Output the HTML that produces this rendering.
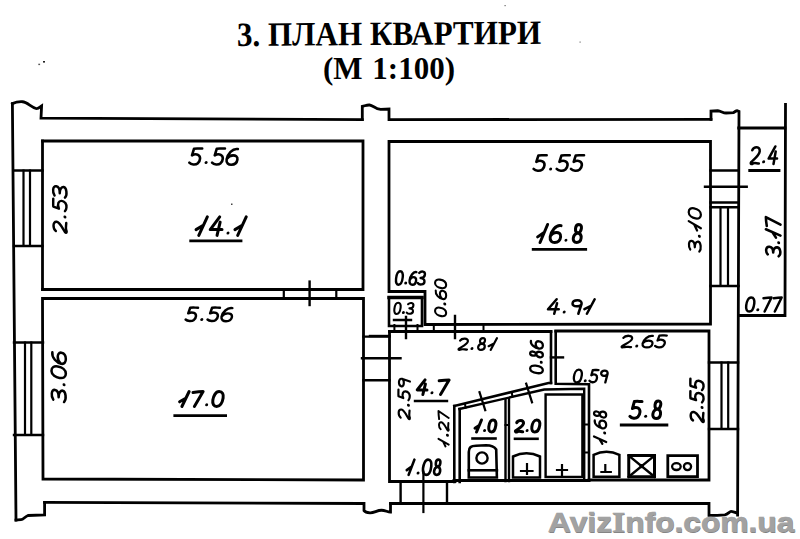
<!DOCTYPE html>
<html><head><meta charset="utf-8"><style>
html,body{margin:0;padding:0;background:#fff;width:800px;height:539px;overflow:hidden}
svg{position:absolute;left:0;top:0}
.t{position:absolute;font-family:"Liberation Serif",serif;font-weight:bold;color:#000;white-space:nowrap;line-height:1}
.wm{position:absolute;font-family:"Liberation Sans",sans-serif;font-weight:bold;white-space:nowrap;line-height:1;color:#a2a2a2;text-shadow:0.5px 0.8px 0.6px #7a7a7a;-webkit-text-stroke:0.7px #a2a2a2}
</style></head><body>
<div class="t" id="t1" style="left:237px;top:17.5px;font-size:34px;transform:rotate(-0.4deg) scaleX(0.915);transform-origin:0 100%">3. ПЛАН КВАРТИРИ</div>
<div class="t" id="t2" style="left:323px;top:52.5px;font-size:31px;word-spacing:2px;transform:scaleX(1.0);transform-origin:0 0">(М 1:100)</div>
<svg width="800" height="539" viewBox="0 0 800 539">
<g fill="none" stroke="#000" stroke-linecap="square" stroke-linejoin="miter">
<path d="M12.4,103.6 L16,520" stroke-width="2.8"/><path d="M12.4,103.6 C16,102 19,101.5 22.5,101.75 C27,102 31,107 36,108.5 C38,109 40,107 41.6,105.9 L41,118.2 L362.3,119.6" stroke-width="2.8"/><path d="M362.3,119.6 L362.3,106.4 C365,105.8 367,104.8 369.5,105 C372,105.3 375,107.8 377.3,108.6 L380.5,109.3 L389,109 L389,119.6 L711,119.4" stroke-width="2.8"/><path d="M711,119.4 L711,111 L717.75,110.75 C721,111 723,113 726,113 L733.5,112.7 C735,111.5 736,110.75 737,110.75 L739,111.5 L737.6,515" stroke-width="2.8"/><path d="M390.5,503.5 L709,503.5 L709,515.4 C714,515.5 720,515.2 724.75,514.9 C728,514.5 729.5,511.4 731,511.4 C733,511.4 735.5,513 737.6,513" stroke-width="2.8"/><path d="M44.6,502.4 L364,503.5 L364,510.6 C365,512 367,512.6 370,512.8 C374,513 377,510.3 381.5,510.25 C385,510.2 388,512.3 390.5,512.1 L390.5,503.5" stroke-width="2.8"/><path d="M44.6,502.4 L44.6,514.8 L28,515.5 C25,516.5 23.5,519.5 21,519.7 L16,520" stroke-width="2.8"/><path d="M42.5,141 L363,141 L363,289.5 L42.5,289.5" stroke-width="2.8"/><path d="M42.5,141 L42.5,289.5" stroke-width="2.8"/><path d="M42.5,298.5 L363.5,298.5 L363.5,480 L43,479 L42.5,298.5" stroke-width="2.8"/><path d="M14,170.5 L42.5,170.5 M14,246 L42.5,246" stroke-width="2.4"/><path d="M23.5,170.5 L23.5,246 M30,170.5 L30,246" stroke-width="2.2"/><path d="M14,342.5 L43,342.5 M14,435 L43,435" stroke-width="2.4"/><path d="M25,342.5 L25,435 M31.3,342.5 L31.3,435" stroke-width="2.2"/><path d="M283.8,289.5 L283.8,298.5 M336.3,289.5 L336.3,298.5" stroke-width="2.2"/><path d="M309.6,281.6 L309.6,305" stroke-width="2.4"/><path d="M389,141.5 L710.5,141.5 L710.5,324 L425,324.5 L425,291.5 L389,291.5 L389,141.5" stroke-width="2.8"/><path d="M710.5,170.5 L738.5,170.5 M705,186.8 L746.7,186.8 M710.5,202.5 L738.5,202.5 M710.5,207.3 L738.5,207.3 M710.5,286 L738.5,286" stroke-width="2.4"/><path d="M720.5,207.3 L720.5,286 M728,207.3 L728,286" stroke-width="2.2"/><path d="M738.7,128 L785.5,128 M785.5,104.5 L785,315.5 L738.7,315.5" stroke-width="2.8"/><path d="M389,297.5 L422,297.5 L422,326 L389,326 Z" stroke-width="2.6"/><path d="M389,297.5 L422,297.5" stroke-width="3.4"/><path d="M389.5,331.5 L551,331.5" stroke-width="2.8"/><path d="M394.4,325 L394.4,331.5 M417.5,325 L417.5,331.5 M433.8,325 L433.8,331.5 M483.5,325 L483.5,331.5" stroke-width="2.0"/><path d="M406,317 L406,338 M394,320 L411,320 M455,316 L455,338" stroke-width="2.4"/><path d="M389.5,331.5 L389.5,481.5 L455,481.5" stroke-width="2.8"/><path d="M363.5,336.6 L389.5,336.6 M362,358.3 L400.5,358.3 M363.5,380.2 L389.5,380.2" stroke-width="2.4"/><path d="M370,336 L389.5,336" stroke-width="2.4"/><path d="M400.6,481.5 L400.6,503.5 M447,481.5 L447,503.5" stroke-width="2.4"/><path d="M423.4,471.6 L423.4,512" stroke-width="2.2"/><path d="M551,331.5 L551,383 M555.7,331.5 L555.7,383.8 L589,384.2 L589,480" stroke-width="2.6"/><path d="M551,357.4 L563,357.4" stroke-width="2.4"/><path d="M555.7,331 L709,331 L709,480 L589,480" stroke-width="2.8"/><path d="M709,362.5 L738,362.5 M709,429 L738,429" stroke-width="2.4"/><path d="M721.5,362.5 L721.5,429 M728.2,362.5 L728.2,429" stroke-width="2.2"/><path d="M454.3,406 L548.5,383 L551,383" stroke-width="2.6"/><path d="M459.4,409 L544.2,389.5 L584.2,388.8 L584.2,480" stroke-width="2.4"/><path d="M454.3,406 L454.3,482 M459.7,409 L459.7,482" stroke-width="2.6"/><path d="M505.5,399.3 L505.5,481 M509,398.5 L509,481" stroke-width="2.4"/><path d="M505.5,425 L509,425" stroke-width="2.0"/><path d="M454,480.5 L589,480.5" stroke-width="3.0"/><path d="M584.2,424.6 L589,424.6 M584.2,452.5 L589,452.5" stroke-width="2.0"/><path d="M479.5,392.2 L485.2,410.2 M526.2,383.6 L532,402.3" stroke-width="2.2"/><path d="M465,404 L465.6,407.6 M511.8,392.5 L512.4,396.5" stroke-width="2.0"/><path d="M468.8,477.5 L468.8,452 C468.8,447 471,446 476,445.8 L486,445.3 C491,445.3 494,446 496.2,449.5 L496.9,477.5 Z" stroke-width="2.6"/><circle cx="482" cy="458" r="5.6" stroke-width="2.4"/><path d="M468.8,470.3 L496.9,470.3" stroke-width="2.6"/><path d="M513,477.5 L513,456.5 Q526.5,450 540,456.5 L540,477.5 Z" stroke-width="2.5"/><path d="M521,471 L532.5,471 M527,464 L527,474" stroke-width="2.2"/><path d="M545.6,394.5 L582.4,394.5 L582.4,477 L545.6,477 Z" stroke-width="2.4"/><path d="M557,470 L567,470 M562,465 L562,475" stroke-width="2.2"/><path d="M593.6,476.7 L593.6,454.8 Q606.5,448.5 619.4,454.8 L619.4,476.7 Z" stroke-width="2.5"/><path d="M601.4,472 L610.8,472 M605.3,465 L605.3,472" stroke-width="2.2"/><path d="M628.75,455.6 L654.5,455.6 L654.5,476.7 L628.75,476.7 Z" stroke-width="3.0"/><path d="M628.75,455.6 L654.5,476.7 M654.5,455.6 L628.75,476.7" stroke-width="2.4"/><circle cx="641.6" cy="466.1" r="2.2" fill="#000" stroke="none"/><path d="M667.8,455.6 L697.5,455.6 L697.5,476.7 L667.8,476.7 Z" stroke-width="2.8"/><ellipse cx="676.4" cy="466.6" rx="4.3" ry="3.4" stroke-width="2.3"/><ellipse cx="687.5" cy="466.6" rx="3.6" ry="3.5" stroke-width="2.3"/><path d="M190.7,240.8 L241,240.8" stroke-width="2.8"/><path d="M533.2,249.3 L585.7,249.3" stroke-width="2.8"/><path d="M749.7,170.5 L779,170.5" stroke-width="2.8"/><path d="M621.25,425 L666.9,425" stroke-width="2.8"/><path d="M415,401 L447,401" stroke-width="2.4"/><path d="M472.5,438.5 L495.5,438.5" stroke-width="2.6"/><path d="M515,438.8 L537.5,438.8" stroke-width="2.6"/><path d="M174.8,415.7 L225.6,415.7" stroke-width="2.8"/>
</g>
<g transform="translate(189.0,148.05)"><g fill="none" stroke="#000" stroke-width="2.6" stroke-linecap="round" stroke-linejoin="round"><g transform="scale(1.0833,1.0406) translate(2.248,0) skewX(-8)"><path transform="translate(0.00,0)" d="M10,0.5 C7,0.5 4.5,0.2 2.5,0.6 L1.5,7 C3,6 5,5.5 7,6.5 C10,8 10,12 8,14.5 C6,16.5 2,16 0,14" vector-effect="non-scaling-stroke"/><ellipse cx="15.50" cy="14" rx="1.385" ry="1.441" fill="#000" stroke="none"/><path transform="translate(21.00,0)" d="M10,0.5 C7,0.5 4.5,0.2 2.5,0.6 L1.5,7 C3,6 5,5.5 7,6.5 C10,8 10,12 8,14.5 C6,16.5 2,16 0,14" vector-effect="non-scaling-stroke"/><path transform="translate(34.00,0)" d="M9,1 C4,0 0,6 0,11 C0,14.5 2.5,16 5,16 C8,16 10,14 10,11 C10,8 7.5,7 5.5,7 C3,7 1,8.5 0,10.5" vector-effect="non-scaling-stroke"/></g></g></g><g transform="translate(195.25,216.9)"><g fill="none" stroke="#000" stroke-width="3.0" stroke-linecap="round" stroke-linejoin="round"><g transform="scale(1.1786,1.1562) translate(2.248,0) skewX(-8)"><path transform="translate(0.00,0)" d="M8,0 L3,16 M0,11 L5.6,7.2" vector-effect="non-scaling-stroke"/><path transform="translate(12.00,0)" d="M6.5,0 L0,11 L10,11 M7.5,4.5 L6.5,16" vector-effect="non-scaling-stroke"/><ellipse cx="27.50" cy="14" rx="1.273" ry="1.297" fill="#000" stroke="none"/><path transform="translate(33.00,0)" d="M8,0 L3,16 M0,11 L5.6,7.2" vector-effect="non-scaling-stroke"/></g></g></g><g transform="translate(52.828,233.37199999999999) rotate(-90)"><g fill="none" stroke="#000" stroke-width="2.4560000000000004" vector-effect="non-scaling-stroke" stroke-linecap="round" stroke-linejoin="round"><g transform="scale(1.0410,0.8653) translate(2.248,0) skewX(-8)"><path transform="translate(0.00,0)" d="M0.5,3.5 C2,0 9.5,-0.5 9.5,4.5 C9.5,8.5 3,12 0.8,14.2 C-0.5,15.8 1.5,16.5 3,15.5 C5,14.5 7.5,15.5 10,15.5" vector-effect="non-scaling-stroke"/><ellipse cx="15.50" cy="14" rx="1.441" ry="1.734" fill="#000" stroke="none"/><path transform="translate(21.00,0)" d="M10,0.5 C7,0.5 4.5,0.2 2.5,0.6 L1.5,7 C3,6 5,5.5 7,6.5 C10,8 10,12 8,14.5 C6,16.5 2,16 0,14" vector-effect="non-scaling-stroke"/><path transform="translate(34.00,0)" d="M0.5,2 C3,-0.5 9.5,-0.5 9.5,4 C9.5,7 6,8 3.5,8 C8,8 10,10.5 10,12.5 C10,16 3,17 0,14" vector-effect="non-scaling-stroke"/></g></g></g><g transform="translate(533.3,154.8)"><g fill="none" stroke="#000" stroke-width="2.6" stroke-linecap="round" stroke-linejoin="round"><g transform="scale(1.0984,1.0125) translate(2.248,0) skewX(-8)"><path transform="translate(0.00,0)" d="M10,0.5 C7,0.5 4.5,0.2 2.5,0.6 L1.5,7 C3,6 5,5.5 7,6.5 C10,8 10,12 8,14.5 C6,16.5 2,16 0,14" vector-effect="non-scaling-stroke"/><ellipse cx="15.50" cy="14" rx="1.366" ry="1.481" fill="#000" stroke="none"/><path transform="translate(21.00,0)" d="M10,0.5 C7,0.5 4.5,0.2 2.5,0.6 L1.5,7 C3,6 5,5.5 7,6.5 C10,8 10,12 8,14.5 C6,16.5 2,16 0,14" vector-effect="non-scaling-stroke"/><path transform="translate(34.00,0)" d="M10,0.5 C7,0.5 4.5,0.2 2.5,0.6 L1.5,7 C3,6 5,5.5 7,6.5 C10,8 10,12 8,14.5 C6,16.5 2,16 0,14" vector-effect="non-scaling-stroke"/></g></g></g><g transform="translate(536.9,224.5)"><g fill="none" stroke="#000" stroke-width="3.0" stroke-linecap="round" stroke-linejoin="round"><g transform="scale(1.0454,1.1250) translate(2.248,0) skewX(-8)"><path transform="translate(0.00,0)" d="M8,0 L3,16 M0,11 L5.6,7.2" vector-effect="non-scaling-stroke"/><path transform="translate(12.00,0)" d="M9,1 C4,0 0,6 0,11 C0,14.5 2.5,16 5,16 C8,16 10,14 10,11 C10,8 7.5,7 5.5,7 C3,7 1,8.5 0,10.5" vector-effect="non-scaling-stroke"/><ellipse cx="27.50" cy="14" rx="1.435" ry="1.333" fill="#000" stroke="none"/><path transform="translate(33.00,0)" d="M5,7.5 C1.5,7 1,0 5,0 C9,0 8.5,7 5,7.5 C0,8.5 0,16 5,16 C10,16 10,8.5 5,7.5 Z" vector-effect="non-scaling-stroke"/></g></g></g><g transform="translate(688.714,251.886) rotate(-90)"><g fill="none" stroke="#000" stroke-width="2.227999999999997" vector-effect="non-scaling-stroke" stroke-linecap="round" stroke-linejoin="round"><g transform="scale(0.9851,0.7607) translate(2.248,0) skewX(-8)"><path transform="translate(0.00,0)" d="M0.5,2 C3,-0.5 9.5,-0.5 9.5,4 C9.5,7 6,8 3.5,8 C8,8 10,10.5 10,12.5 C10,16 3,17 0,14" vector-effect="non-scaling-stroke"/><ellipse cx="15.50" cy="14" rx="1.523" ry="1.972" fill="#000" stroke="none"/><path transform="translate(21.00,0)" d="M8,0 L3,16 M0,11 L5.6,7.2" vector-effect="non-scaling-stroke"/><path transform="translate(33.00,0)" d="M5,0 C1.5,0 0,5 0,9 C0,13.5 2,16 4.8,16 C8,16 10,12 10,7 C10,3 8.5,0 5,0 Z" vector-effect="non-scaling-stroke"/></g></g></g><g transform="translate(765.8820000000001,256.51800000000003) rotate(-90)"><g fill="none" stroke="#000" stroke-width="2.5639999999999916" vector-effect="non-scaling-stroke" stroke-linecap="round" stroke-linejoin="round"><g transform="scale(0.8716,0.9147) translate(2.248,0) skewX(-8)"><path transform="translate(0.00,0)" d="M0.5,2 C3,-0.5 9.5,-0.5 9.5,4 C9.5,7 6,8 3.5,8 C8,8 10,10.5 10,12.5 C10,16 3,17 0,14" vector-effect="non-scaling-stroke"/><ellipse cx="15.50" cy="14" rx="1.721" ry="1.640" fill="#000" stroke="none"/><path transform="translate(21.00,0)" d="M8,0 L3,16 M0,11 L5.6,7.2" vector-effect="non-scaling-stroke"/><path transform="translate(33.00,0)" d="M0,1 C3,0.5 7,0 10,0 L3.5,16" vector-effect="non-scaling-stroke"/></g></g></g><g transform="translate(750.35,146.45)"><g fill="none" stroke="#000" stroke-width="2.5" stroke-linecap="round" stroke-linejoin="round"><g transform="scale(0.8422,1.1000) translate(2.248,0) skewX(-8)"><path transform="translate(0.00,0)" d="M0.5,3.5 C2,0 9.5,-0.5 9.5,4.5 C9.5,8.5 3,12 0.8,14.2 C-0.5,15.8 1.5,16.5 3,15.5 C5,14.5 7.5,15.5 10,15.5" vector-effect="non-scaling-stroke"/><ellipse cx="15.50" cy="14" rx="1.781" ry="1.364" fill="#000" stroke="none"/><path transform="translate(21.00,0)" d="M6.5,0 L0,11 L10,11 M7.5,4.5 L6.5,16" vector-effect="non-scaling-stroke"/></g></g></g><g transform="translate(745.446,297.44599999999997)"><g fill="none" stroke="#000" stroke-width="2.4920000000000027" stroke-linecap="round" stroke-linejoin="round"><g transform="scale(0.7829,0.8818) translate(2.248,0) skewX(-8)"><path transform="translate(0.00,0)" d="M5,0 C1.5,0 0,5 0,9 C0,13.5 2,16 4.8,16 C8,16 10,12 10,7 C10,3 8.5,0 5,0 Z" vector-effect="non-scaling-stroke"/><ellipse cx="15.50" cy="14" rx="1.916" ry="1.701" fill="#000" stroke="none"/><path transform="translate(21.00,0)" d="M0,1 C3,0.5 7,0 10,0 L3.5,16" vector-effect="non-scaling-stroke"/><path transform="translate(34.00,0)" d="M0,1 C3,0.5 7,0 10,0 L3.5,16" vector-effect="non-scaling-stroke"/></g></g></g><g transform="translate(547.27,299.27)"><g fill="none" stroke="#000" stroke-width="2.54" stroke-linecap="round" stroke-linejoin="round"><g transform="scale(1.0710,0.9038) translate(2.248,0) skewX(-8)"><path transform="translate(0.00,0)" d="M6.5,0 L0,11 L10,11 M7.5,4.5 L6.5,16" vector-effect="non-scaling-stroke"/><ellipse cx="15.50" cy="14" rx="1.401" ry="1.660" fill="#000" stroke="none"/><path transform="translate(21.00,0)" d="M9.5,5 C9.5,0 1,0 1,4.5 C1,8.5 9,9 9.5,5 L8,16" vector-effect="non-scaling-stroke"/><path transform="translate(34.00,0)" d="M8,0 L3,16 M0,11 L5.6,7.2" vector-effect="non-scaling-stroke"/></g></g></g><g transform="translate(395.39799999999997,271.298)"><g fill="none" stroke="#000" stroke-width="2.3959999999999946" stroke-linecap="round" stroke-linejoin="round"><g transform="scale(0.6531,0.8377) translate(2.248,0) skewX(-8)"><path transform="translate(0.00,0)" d="M5,0 C1.5,0 0,5 0,9 C0,13.5 2,16 4.8,16 C8,16 10,12 10,7 C10,3 8.5,0 5,0 Z" vector-effect="non-scaling-stroke"/><ellipse cx="15.50" cy="14" rx="2.297" ry="1.791" fill="#000" stroke="none"/><path transform="translate(21.00,0)" d="M9,1 C4,0 0,6 0,11 C0,14.5 2.5,16 5,16 C8,16 10,14 10,11 C10,8 7.5,7 5.5,7 C3,7 1,8.5 0,10.5" vector-effect="non-scaling-stroke"/><path transform="translate(34.00,0)" d="M0.5,2 C3,-0.5 9.5,-0.5 9.5,4 C9.5,7 6,8 3.5,8 C8,8 10,10.5 10,12.5 C10,16 3,17 0,14" vector-effect="non-scaling-stroke"/></g></g></g><g transform="translate(435.042,316.958) rotate(-90)"><g fill="none" stroke="#000" stroke-width="2.0839999999999987" vector-effect="non-scaling-stroke" stroke-linecap="round" stroke-linejoin="round"><g transform="scale(0.8242,0.6948) translate(2.248,0) skewX(-8)"><path transform="translate(0.00,0)" d="M5,0 C1.5,0 0,5 0,9 C0,13.5 2,16 4.8,16 C8,16 10,12 10,7 C10,3 8.5,0 5,0 Z" vector-effect="non-scaling-stroke"/><ellipse cx="15.50" cy="14" rx="1.820" ry="2.159" fill="#000" stroke="none"/><path transform="translate(21.00,0)" d="M9,1 C4,0 0,6 0,11 C0,14.5 2.5,16 5,16 C8,16 10,14 10,11 C10,8 7.5,7 5.5,7 C3,7 1,8.5 0,10.5" vector-effect="non-scaling-stroke"/><path transform="translate(34.00,0)" d="M5,0 C1.5,0 0,5 0,9 C0,13.5 2,16 4.8,16 C8,16 10,12 10,7 C10,3 8.5,0 5,0 Z" vector-effect="non-scaling-stroke"/></g></g></g><g transform="translate(393.748,302.748)"><g fill="none" stroke="#000" stroke-width="2.096000000000001" stroke-linecap="round" stroke-linejoin="round"><g transform="scale(0.6107,0.7003) translate(2.248,0) skewX(-8)"><path transform="translate(0.00,0)" d="M5,0 C1.5,0 0,5 0,9 C0,13.5 2,16 4.8,16 C8,16 10,12 10,7 C10,3 8.5,0 5,0 Z" vector-effect="non-scaling-stroke"/><ellipse cx="15.50" cy="14" rx="2.456" ry="2.142" fill="#000" stroke="none"/><path transform="translate(21.00,0)" d="M0.5,2 C3,-0.5 9.5,-0.5 9.5,4 C9.5,7 6,8 3.5,8 C8,8 10,10.5 10,12.5 C10,16 3,17 0,14" vector-effect="non-scaling-stroke"/></g></g></g><g transform="translate(458.09,338.09)"><g fill="none" stroke="#000" stroke-width="2.1799999999999997" stroke-linecap="round" stroke-linejoin="round"><g transform="scale(0.8800,0.7388) translate(2.248,0) skewX(-8)"><path transform="translate(0.00,0)" d="M0.5,3.5 C2,0 9.5,-0.5 9.5,4.5 C9.5,8.5 3,12 0.8,14.2 C-0.5,15.8 1.5,16.5 3,15.5 C5,14.5 7.5,15.5 10,15.5" vector-effect="non-scaling-stroke"/><ellipse cx="15.50" cy="14" rx="1.704" ry="2.030" fill="#000" stroke="none"/><path transform="translate(21.00,0)" d="M5,7.5 C1.5,7 1,0 5,0 C9,0 8.5,7 5,7.5 C0,8.5 0,16 5,16 C10,16 10,8.5 5,7.5 Z" vector-effect="non-scaling-stroke"/><path transform="translate(34.00,0)" d="M8,0 L3,16 M0,11 L5.6,7.2" vector-effect="non-scaling-stroke"/></g></g></g><g transform="translate(530.15,373.85) rotate(-90)"><g fill="none" stroke="#000" stroke-width="2.3" vector-effect="non-scaling-stroke" stroke-linecap="round" stroke-linejoin="round"><g transform="scale(0.7287,0.7938) translate(2.248,0) skewX(-8)"><path transform="translate(0.00,0)" d="M5,0 C1.5,0 0,5 0,9 C0,13.5 2,16 4.8,16 C8,16 10,12 10,7 C10,3 8.5,0 5,0 Z" vector-effect="non-scaling-stroke"/><ellipse cx="15.50" cy="14" rx="2.059" ry="1.890" fill="#000" stroke="none"/><path transform="translate(21.00,0)" d="M5,7.5 C1.5,7 1,0 5,0 C9,0 8.5,7 5,7.5 C0,8.5 0,16 5,16 C10,16 10,8.5 5,7.5 Z" vector-effect="non-scaling-stroke"/><path transform="translate(34.00,0)" d="M9,1 C4,0 0,6 0,11 C0,14.5 2.5,16 5,16 C8,16 10,14 10,11 C10,8 7.5,7 5.5,7 C3,7 1,8.5 0,10.5" vector-effect="non-scaling-stroke"/></g></g></g><g transform="translate(621.126,335.126)"><g fill="none" stroke="#000" stroke-width="2.2520000000000024" stroke-linecap="round" stroke-linejoin="round"><g transform="scale(0.9892,0.7718) translate(2.248,0) skewX(-8)"><path transform="translate(0.00,0)" d="M0.5,3.5 C2,0 9.5,-0.5 9.5,4.5 C9.5,8.5 3,12 0.8,14.2 C-0.5,15.8 1.5,16.5 3,15.5 C5,14.5 7.5,15.5 10,15.5" vector-effect="non-scaling-stroke"/><ellipse cx="15.50" cy="14" rx="1.516" ry="1.944" fill="#000" stroke="none"/><path transform="translate(21.00,0)" d="M9,1 C4,0 0,6 0,11 C0,14.5 2.5,16 5,16 C8,16 10,14 10,11 C10,8 7.5,7 5.5,7 C3,7 1,8.5 0,10.5" vector-effect="non-scaling-stroke"/><path transform="translate(34.00,0)" d="M10,0.5 C7,0.5 4.5,0.2 2.5,0.6 L1.5,7 C3,6 5,5.5 7,6.5 C10,8 10,12 8,14.5 C6,16.5 2,16 0,14" vector-effect="non-scaling-stroke"/></g></g></g><g transform="translate(573.156,369.656)"><g fill="none" stroke="#000" stroke-width="2.312000000000003" stroke-linecap="round" stroke-linejoin="round"><g transform="scale(0.7652,0.7993) translate(2.248,0) skewX(-8)"><path transform="translate(0.00,0)" d="M5,0 C1.5,0 0,5 0,9 C0,13.5 2,16 4.8,16 C8,16 10,12 10,7 C10,3 8.5,0 5,0 Z" vector-effect="non-scaling-stroke"/><ellipse cx="15.50" cy="14" rx="1.960" ry="1.877" fill="#000" stroke="none"/><path transform="translate(21.00,0)" d="M10,0.5 C7,0.5 4.5,0.2 2.5,0.6 L1.5,7 C3,6 5,5.5 7,6.5 C10,8 10,12 8,14.5 C6,16.5 2,16 0,14" vector-effect="non-scaling-stroke"/><path transform="translate(34.00,0)" d="M9.5,5 C9.5,0 1,0 1,4.5 C1,8.5 9,9 9.5,5 L8,16" vector-effect="non-scaling-stroke"/></g></g></g><g transform="translate(629.6,400.9)"><g fill="none" stroke="#000" stroke-width="3.0" stroke-linecap="round" stroke-linejoin="round"><g transform="scale(1.0196,1.1000) translate(2.248,0) skewX(-8)"><path transform="translate(0.00,0)" d="M10,0.5 C7,0.5 4.5,0.2 2.5,0.6 L1.5,7 C3,6 5,5.5 7,6.5 C10,8 10,12 8,14.5 C6,16.5 2,16 0,14" vector-effect="non-scaling-stroke"/><ellipse cx="15.50" cy="14" rx="1.471" ry="1.364" fill="#000" stroke="none"/><path transform="translate(21.00,0)" d="M5,7.5 C1.5,7 1,0 5,0 C9,0 8.5,7 5,7.5 C0,8.5 0,16 5,16 C10,16 10,8.5 5,7.5 Z" vector-effect="non-scaling-stroke"/></g></g></g><g transform="translate(689.975,422.525) rotate(-90)"><g fill="none" stroke="#000" stroke-width="2.45" vector-effect="non-scaling-stroke" stroke-linecap="round" stroke-linejoin="round"><g transform="scale(0.9471,0.8625) translate(2.248,0) skewX(-8)"><path transform="translate(0.00,0)" d="M0.5,3.5 C2,0 9.5,-0.5 9.5,4.5 C9.5,8.5 3,12 0.8,14.2 C-0.5,15.8 1.5,16.5 3,15.5 C5,14.5 7.5,15.5 10,15.5" vector-effect="non-scaling-stroke"/><ellipse cx="15.50" cy="14" rx="1.584" ry="1.739" fill="#000" stroke="none"/><path transform="translate(21.00,0)" d="M10,0.5 C7,0.5 4.5,0.2 2.5,0.6 L1.5,7 C3,6 5,5.5 7,6.5 C10,8 10,12 8,14.5 C6,16.5 2,16 0,14" vector-effect="non-scaling-stroke"/><path transform="translate(34.00,0)" d="M10,0.5 C7,0.5 4.5,0.2 2.5,0.6 L1.5,7 C3,6 5,5.5 7,6.5 C10,8 10,12 8,14.5 C6,16.5 2,16 0,14" vector-effect="non-scaling-stroke"/></g></g></g><g transform="translate(416.5,379.9)"><g fill="none" stroke="#000" stroke-width="3.0" stroke-linecap="round" stroke-linejoin="round"><g transform="scale(0.9805,0.9125) translate(2.248,0) skewX(-8)"><path transform="translate(0.00,0)" d="M6.5,0 L0,11 L10,11 M7.5,4.5 L6.5,16" vector-effect="non-scaling-stroke"/><ellipse cx="15.50" cy="14" rx="1.530" ry="1.644" fill="#000" stroke="none"/><path transform="translate(21.00,0)" d="M0,1 C3,0.5 7,0 10,0 L3.5,16" vector-effect="non-scaling-stroke"/></g></g></g><g transform="translate(398.09,419.61) rotate(-90)"><g fill="none" stroke="#000" stroke-width="2.1799999999999997" vector-effect="non-scaling-stroke" stroke-linecap="round" stroke-linejoin="round"><g transform="scale(0.9064,0.7388) translate(2.248,0) skewX(-8)"><path transform="translate(0.00,0)" d="M0.5,3.5 C2,0 9.5,-0.5 9.5,4.5 C9.5,8.5 3,12 0.8,14.2 C-0.5,15.8 1.5,16.5 3,15.5 C5,14.5 7.5,15.5 10,15.5" vector-effect="non-scaling-stroke"/><ellipse cx="15.50" cy="14" rx="1.655" ry="2.030" fill="#000" stroke="none"/><path transform="translate(21.00,0)" d="M10,0.5 C7,0.5 4.5,0.2 2.5,0.6 L1.5,7 C3,6 5,5.5 7,6.5 C10,8 10,12 8,14.5 C6,16.5 2,16 0,14" vector-effect="non-scaling-stroke"/><path transform="translate(34.00,0)" d="M9.5,5 C9.5,0 1,0 1,4.5 C1,8.5 9,9 9.5,5 L8,16" vector-effect="non-scaling-stroke"/></g></g></g><g transform="translate(438.48199999999997,447.01800000000003) rotate(-90)"><g fill="none" stroke="#000" stroke-width="1.9639999999999986" vector-effect="non-scaling-stroke" stroke-linecap="round" stroke-linejoin="round"><g transform="scale(0.7964,0.6397) translate(2.248,0) skewX(-8)"><path transform="translate(0.00,0)" d="M8,0 L3,16 M0,11 L5.6,7.2" vector-effect="non-scaling-stroke"/><ellipse cx="14.50" cy="14" rx="1.883" ry="2.345" fill="#000" stroke="none"/><path transform="translate(20.00,0)" d="M0.5,3.5 C2,0 9.5,-0.5 9.5,4.5 C9.5,8.5 3,12 0.8,14.2 C-0.5,15.8 1.5,16.5 3,15.5 C5,14.5 7.5,15.5 10,15.5" vector-effect="non-scaling-stroke"/><path transform="translate(33.00,0)" d="M0,1 C3,0.5 7,0 10,0 L3.5,16" vector-effect="non-scaling-stroke"/></g></g></g><g transform="translate(474.5,420.0)"><g fill="none" stroke="#000" stroke-width="3.0" stroke-linecap="round" stroke-linejoin="round"><g transform="scale(0.6822,0.7500) translate(2.248,0) skewX(-8)"><path transform="translate(0.00,0)" d="M8,0 L3,16 M0,11 L5.6,7.2" vector-effect="non-scaling-stroke"/><ellipse cx="14.50" cy="14" rx="2.199" ry="2.000" fill="#000" stroke="none"/><path transform="translate(20.00,0)" d="M5,0 C1.5,0 0,5 0,9 C0,13.5 2,16 4.8,16 C8,16 10,12 10,7 C10,3 8.5,0 5,0 Z" vector-effect="non-scaling-stroke"/></g></g></g><g transform="translate(515.0,420.0)"><g fill="none" stroke="#000" stroke-width="3.0" stroke-linecap="round" stroke-linejoin="round"><g transform="scale(0.7670,0.7500) translate(2.248,0) skewX(-8)"><path transform="translate(0.00,0)" d="M0.5,3.5 C2,0 9.5,-0.5 9.5,4.5 C9.5,8.5 3,12 0.8,14.2 C-0.5,15.8 1.5,16.5 3,15.5 C5,14.5 7.5,15.5 10,15.5" vector-effect="non-scaling-stroke"/><ellipse cx="15.50" cy="14" rx="1.956" ry="2.000" fill="#000" stroke="none"/><path transform="translate(21.00,0)" d="M5,0 C1.5,0 0,5 0,9 C0,13.5 2,16 4.8,16 C8,16 10,12 10,7 C10,3 8.5,0 5,0 Z" vector-effect="non-scaling-stroke"/></g></g></g><g transform="translate(594.014,444.386) rotate(-90)"><g fill="none" stroke="#000" stroke-width="2.227999999999997" vector-effect="non-scaling-stroke" stroke-linecap="round" stroke-linejoin="round"><g transform="scale(0.7729,0.7607) translate(2.248,0) skewX(-8)"><path transform="translate(0.00,0)" d="M8,0 L3,16 M0,11 L5.6,7.2" vector-effect="non-scaling-stroke"/><ellipse cx="14.50" cy="14" rx="1.941" ry="1.972" fill="#000" stroke="none"/><path transform="translate(20.00,0)" d="M9,1 C4,0 0,6 0,11 C0,14.5 2.5,16 5,16 C8,16 10,14 10,11 C10,8 7.5,7 5.5,7 C3,7 1,8.5 0,10.5" vector-effect="non-scaling-stroke"/><path transform="translate(33.00,0)" d="M5,7.5 C1.5,7 1,0 5,0 C9,0 8.5,7 5,7.5 C0,8.5 0,16 5,16 C10,16 10,8.5 5,7.5 Z" vector-effect="non-scaling-stroke"/></g></g></g><g transform="translate(406.2,459.6)"><g fill="none" stroke="#000" stroke-width="2.6" stroke-linecap="round" stroke-linejoin="round"><g transform="scale(0.8022,0.9562) translate(2.248,0) skewX(-8)"><path transform="translate(0.00,0)" d="M8,0 L3,16 M0,11 L5.6,7.2" vector-effect="non-scaling-stroke"/><ellipse cx="14.50" cy="14" rx="1.870" ry="1.569" fill="#000" stroke="none"/><path transform="translate(20.00,0)" d="M5,0 C1.5,0 0,5 0,9 C0,13.5 2,16 4.8,16 C8,16 10,12 10,7 C10,3 8.5,0 5,0 Z" vector-effect="non-scaling-stroke"/><path transform="translate(33.00,0)" d="M5,7.5 C1.5,7 1,0 5,0 C9,0 8.5,7 5,7.5 C0,8.5 0,16 5,16 C10,16 10,8.5 5,7.5 Z" vector-effect="non-scaling-stroke"/></g></g></g><g transform="translate(178.9,391.5)"><g fill="none" stroke="#000" stroke-width="3.0" stroke-linecap="round" stroke-linejoin="round"><g transform="scale(0.9989,0.9375) translate(2.248,0) skewX(-8)"><path transform="translate(0.00,0)" d="M8,0 L3,16 M0,11 L5.6,7.2" vector-effect="non-scaling-stroke"/><path transform="translate(12.00,0)" d="M0,1 C3,0.5 7,0 10,0 L3.5,16" vector-effect="non-scaling-stroke"/><ellipse cx="27.50" cy="14" rx="1.502" ry="1.600" fill="#000" stroke="none"/><path transform="translate(33.00,0)" d="M5,0 C1.5,0 0,5 0,9 C0,13.5 2,16 4.8,16 C8,16 10,12 10,7 C10,3 8.5,0 5,0 Z" vector-effect="non-scaling-stroke"/></g></g></g><g transform="translate(185.34,307.24)"><g fill="none" stroke="#000" stroke-width="2.48" stroke-linecap="round" stroke-linejoin="round"><g transform="scale(1.0426,0.8762) translate(2.248,0) skewX(-8)"><path transform="translate(0.00,0)" d="M10,0.5 C7,0.5 4.5,0.2 2.5,0.6 L1.5,7 C3,6 5,5.5 7,6.5 C10,8 10,12 8,14.5 C6,16.5 2,16 0,14" vector-effect="non-scaling-stroke"/><ellipse cx="15.50" cy="14" rx="1.439" ry="1.712" fill="#000" stroke="none"/><path transform="translate(21.00,0)" d="M10,0.5 C7,0.5 4.5,0.2 2.5,0.6 L1.5,7 C3,6 5,5.5 7,6.5 C10,8 10,12 8,14.5 C6,16.5 2,16 0,14" vector-effect="non-scaling-stroke"/><path transform="translate(34.00,0)" d="M9,1 C4,0 0,6 0,11 C0,14.5 2.5,16 5,16 C8,16 10,14 10,11 C10,8 7.5,7 5.5,7 C3,7 1,8.5 0,10.5" vector-effect="non-scaling-stroke"/></g></g></g><g transform="translate(51.464,402.336) rotate(-90)"><g fill="none" stroke="#000" stroke-width="2.5279999999999987" vector-effect="non-scaling-stroke" stroke-linecap="round" stroke-linejoin="round"><g transform="scale(1.1108,0.8982) translate(2.248,0) skewX(-8)"><path transform="translate(0.00,0)" d="M0.5,2 C3,-0.5 9.5,-0.5 9.5,4 C9.5,7 6,8 3.5,8 C8,8 10,10.5 10,12.5 C10,16 3,17 0,14" vector-effect="non-scaling-stroke"/><ellipse cx="15.50" cy="14" rx="1.350" ry="1.670" fill="#000" stroke="none"/><path transform="translate(21.00,0)" d="M5,0 C1.5,0 0,5 0,9 C0,13.5 2,16 4.8,16 C8,16 10,12 10,7 C10,3 8.5,0 5,0 Z" vector-effect="non-scaling-stroke"/><path transform="translate(34.00,0)" d="M9,1 C4,0 0,6 0,11 C0,14.5 2.5,16 5,16 C8,16 10,14 10,11 C10,8 7.5,7 5.5,7 C3,7 1,8.5 0,10.5" vector-effect="non-scaling-stroke"/></g></g></g>
<g fill="#222"><rect x="43" y="61" width="2" height="1.6"/><rect x="38.3" y="63.7" width="1.8" height="1.4" fill="#555"/><rect x="504.5" y="5" width="1.2" height="1.2" fill="#666"/><rect x="579.5" y="41.5" width="1.2" height="1.2" fill="#777"/><rect x="231" y="203.5" width="1.5" height="1.5" fill="#444"/></g>
</svg>
<div class="wm" id="wm" style="left:548px;top:508px;font-size:27px;transform:scaleX(1.174);transform-origin:0 0">Aviz<span style="font-family:'Liberation Serif',serif;font-size:29px">I</span>nfo.com.ua</div>
</body></html>
